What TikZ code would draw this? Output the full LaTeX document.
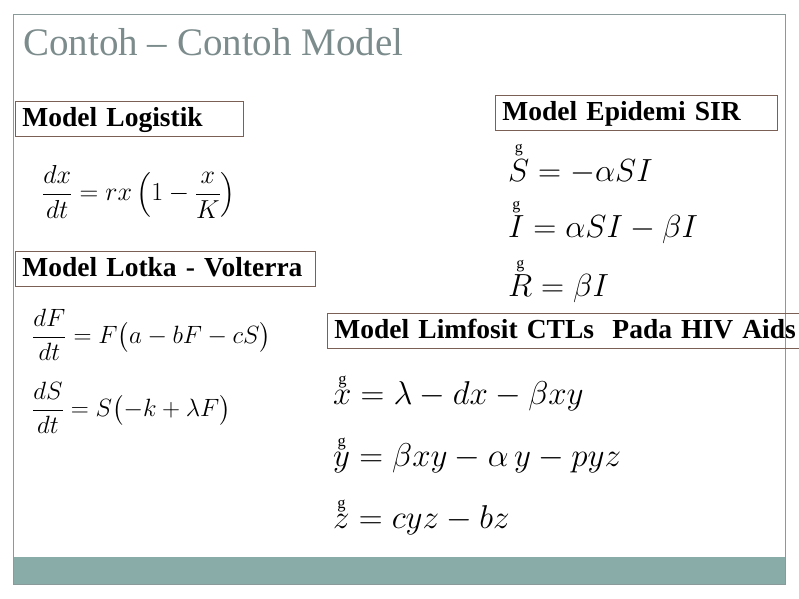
\documentclass[tikz,border=0pt]{standalone}
\usepackage{fix-cm}
\usepackage{amsmath}
\usepackage{fontspec}
\setmainfont{Liberation Serif}
\newcommand{\gdot}[1]{\overset{\scriptscriptstyle\mathrm{g}}{#1}}
\begin{document}
\begin{tikzpicture}[x=1pt,y=-1pt,
  hdr/.style={draw=hdrc, line width=0.8pt, anchor=north west, inner xsep=7pt, inner ysep=0pt, align=left, font=\fontsize{27.5}{30}\selectfont\bfseries, text height=25pt, text depth=10pt},
  eq/.style={anchor=west, inner sep=0pt}]
\useasboundingbox (0,0) rectangle (799,598);
\definecolor{teal1}{HTML}{8AACA9}
\definecolor{frm}{HTML}{8A9A9A}
\definecolor{hdrc}{HTML}{7A6055}
\fill[teal1] (13,557) rectangle (785,584);
\draw[frm, line width=0.8pt] (13,14) rectangle (785,584);
\node[anchor=west, inner sep=0pt, text=frm!90!black, font=\fontsize{39}{42}\selectfont] (title) at (23,42) {Contoh -- Contoh Model};
\node[hdr, text width=214pt] (h1) at (15,101) {Model Logistik};
\node[hdr, text width=286pt] (h2) at (15,251) {Model Lotka - Volterra};
\node[hdr, text width=268pt] (h3) at (495,95) {Model Epidemi SIR};
\node[hdr, text width=466pt] (h4) at (327,313) {Model Limfosit CTLs\ \ Pada HIV Aids};
\node[eq, font=\fontsize{26}{28}\selectfont] (e1) at (42,192) {$\dfrac{dx}{dt}=rx\left(1-\dfrac{x}{K}\right)$};
\node[eq, font=\fontsize{25}{28}\selectfont] (e2) at (32,335) {$\dfrac{dF}{dt}=F\bigl(a-bF-cS\bigr)$};
\node[eq, font=\fontsize{25}{28}\selectfont] (e3) at (32,408) {$\dfrac{dS}{dt}=S\bigl(-k+\lambda F\bigr)$};
\node[eq, font=\fontsize{32}{36}\selectfont] (s1) at (508,163) {$\gdot{S}=-\alpha SI$};
\node[eq, font=\fontsize{32}{36}\selectfont] (s2) at (508,221) {$\gdot{I}=\alpha SI-\beta I$};
\node[eq, font=\fontsize{32}{36}\selectfont] (s3) at (508,280) {$\gdot{R}=\beta I$};
\node[eq, font=\fontsize{33}{36}\selectfont] (l1) at (333,392) {$\gdot{x}=\lambda-dx-\beta xy$};
\node[eq, font=\fontsize{33}{36}\selectfont] (l2) at (333,454) {$\gdot{y}=\beta xy-\alpha\, y-pyz$};
\node[eq, font=\fontsize{33}{36}\selectfont] (l3) at (333,516) {$\gdot{z}=cyz-bz$};
\end{tikzpicture}
\end{document}
